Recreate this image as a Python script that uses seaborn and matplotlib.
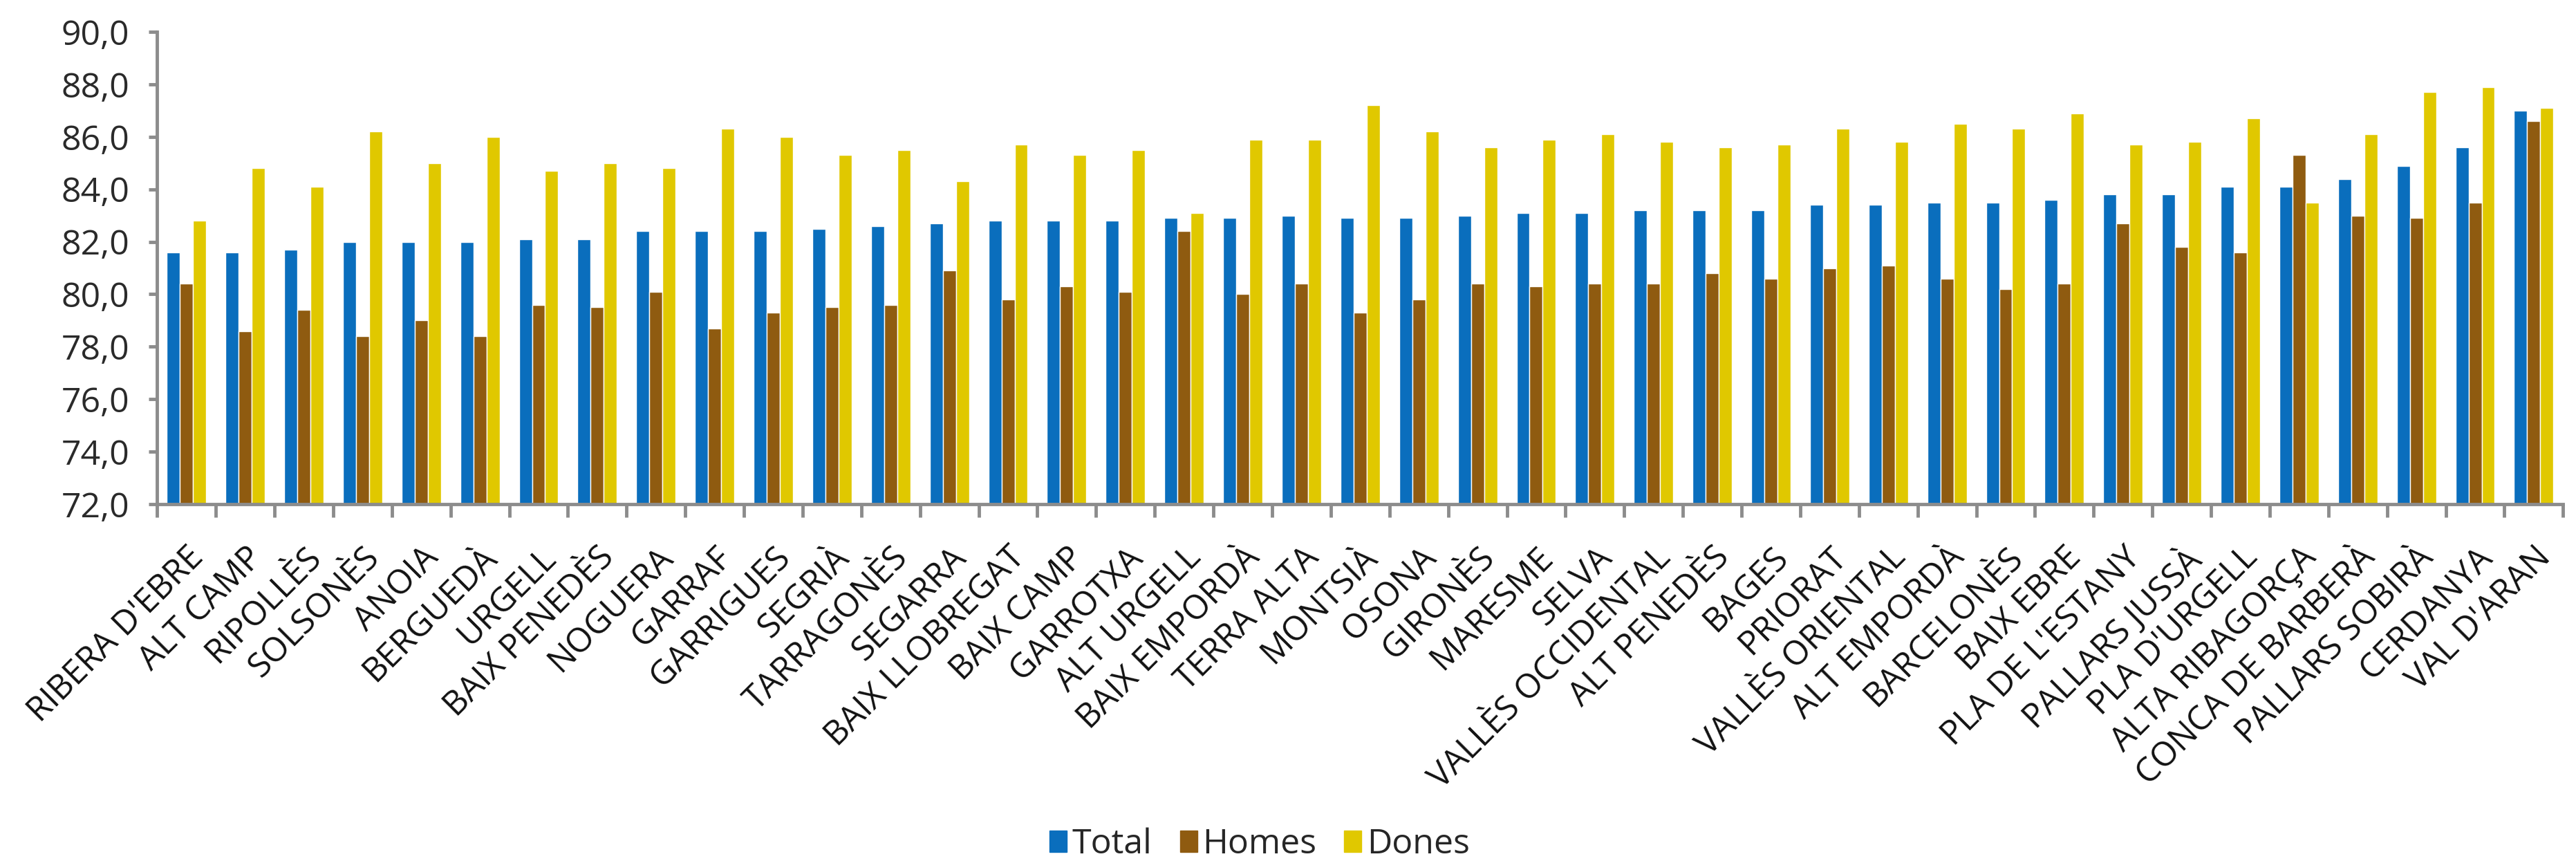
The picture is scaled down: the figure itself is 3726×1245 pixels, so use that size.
import matplotlib
matplotlib.use("Agg")
import matplotlib.pyplot as plt
import seaborn as sns
import pandas as pd
import numpy as np
from matplotlib.ticker import FixedLocator

comarques = ["RIBERA D'EBRE", "ALT CAMP", "RIPOLLÈS", "SOLSONÈS", "ANOIA", "BERGUEDÀ",
             "URGELL", "BAIX PENEDÈS", "NOGUERA", "GARRAF", "GARRIGUES", "SEGRIÀ",
             "TARRAGONÈS", "SEGARRA", "BAIX LLOBREGAT", "BAIX CAMP", "GARROTXA",
             "ALT URGELL", "BAIX EMPORDÀ", "TERRA ALTA", "MONTSIÀ", "OSONA", "GIRONÈS",
             "MARESME", "SELVA", "VALLÈS OCCIDENTAL", "ALT PENEDÈS", "BAGES", "PRIORAT",
             "VALLÈS ORIENTAL", "ALT EMPORDÀ", "BARCELONÈS", "BAIX EBRE", "PLA DE L'ESTANY",
             "PALLARS JUSSÀ", "PLA D'URGELL", "ALTA RIBAGORÇA", "CONCA DE BARBERÀ",
             "PALLARS SOBIRÀ", "CERDANYA", "VAL D'ARAN"]

total = [81.6, 81.6, 81.7, 82.0, 82.0, 82.0, 82.1, 82.1, 82.4, 82.4, 82.4, 82.5,
         82.6, 82.7, 82.8, 82.8, 82.8, 82.9, 82.9, 83.0, 82.9, 82.9, 83.0, 83.1,
         83.1, 83.2, 83.2, 83.2, 83.4, 83.4, 83.5, 83.5, 83.6, 83.8, 83.8, 84.1,
         84.1, 84.4, 84.9, 85.6, 87.0]
homes = [80.4, 78.6, 79.4, 78.4, 79.0, 78.4, 79.6, 79.5, 80.1, 78.7, 79.3, 79.5,
         79.6, 80.9, 79.8, 80.3, 80.1, 82.4, 80.0, 80.4, 79.3, 79.8, 80.4, 80.3,
         80.4, 80.4, 80.8, 80.6, 81.0, 81.1, 80.6, 80.2, 80.4, 82.7, 81.8, 81.6,
         85.3, 83.0, 82.9, 83.5, 86.6]
dones = [82.8, 84.8, 84.1, 86.2, 85.0, 86.0, 84.7, 85.0, 84.8, 86.3, 86.0, 85.3,
         85.5, 84.3, 85.7, 85.3, 85.5, 83.1, 85.9, 85.9, 87.2, 86.2, 85.6, 85.9,
         86.1, 85.8, 85.6, 85.7, 86.3, 85.8, 86.5, 86.3, 86.9, 85.7, 85.8, 86.7,
         83.5, 86.1, 87.7, 87.9, 87.1]
series = ["Total", "Homes", "Dones"]
colors = ["#0A6EBD", "#8F5B10", "#E0C800"]
yticks = [72, 74, 76, 78, 80, 82, 84, 86, 88, 90]

df = pd.DataFrame({
    "comarca": comarques * 3,
    "serie": [series[0]] * len(comarques) + [series[1]] * len(comarques) + [series[2]] * len(comarques),
    "valor": total + homes + dones,
})

sns.set_theme(style="white")
plt.rcParams['font.family'] = ['Open Sans', 'DejaVu Sans']

fig = plt.figure(figsize=(37.26, 12.45), dpi=100)
ax = fig.add_axes([0.061, 0.4145, 0.934, 0.5485])

sns.barplot(data=df, x="comarca", y="valor", hue="serie", order=comarques,
            hue_order=series, palette=colors, width=0.67, gap=0, ax=ax,
            saturation=1, errorbar=None, legend=True)

ax.set_ylim(72, 90)
ax.set_xlim(-0.5, len(comarques) - 0.5)
ax.set_yticks(yticks)
ax.set_yticklabels([f"{v:.1f}".replace(".", ",") for v in yticks], fontsize=36, color="#2a2a2a")
ax.set_xticks(range(len(comarques)))
ax.set_xticklabels(comarques, rotation=45, ha="right", rotation_mode="anchor",
                   fontsize=35, color="#111111")
ax.xaxis.set_minor_locator(FixedLocator(np.arange(-0.5, len(comarques), 1.0)))
ax.tick_params(axis="x", which="major", length=0, pad=38)
ax.tick_params(axis="x", which="minor", length=14, width=3.5, color="#8c8c8c", bottom=True)
ax.tick_params(axis="y", which="major", length=9, width=3.5, color="#8c8c8c", left=True, pad=20)
ax.set_xlabel("")
ax.set_ylabel("")
for s in ["top", "right"]:
    ax.spines[s].set_visible(False)
for s in ["left", "bottom"]:
    ax.spines[s].set_color("#8c8c8c")
    ax.spines[s].set_linewidth(3.5)

ax.legend_.remove()
handles = [plt.Rectangle((0, 0), 1, 1, color=c) for c in colors]
fig.legend(handles, series, loc="lower center", bbox_to_anchor=(0.489, -0.037), ncol=3,
           frameon=False, fontsize=36, handlelength=0.5, handleheight=0.6,
           handletextpad=0.15, columnspacing=0.8)

fig.savefig("out.png", dpi=100)
